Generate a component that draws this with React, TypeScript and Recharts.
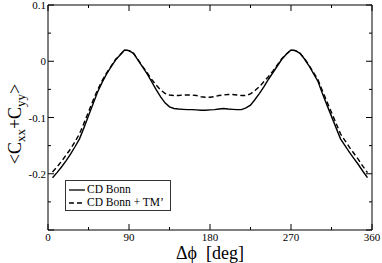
import React from 'react';
import { LineChart, Line, XAxis, YAxis, Legend } from 'recharts';

const angles = [
  5, 10, 15, 20, 25, 30, 35, 40, 45, 50, 55, 60, 65, 70, 75, 80, 85, 90,
  95, 100, 105, 110, 115, 120, 125, 130, 135, 140, 145, 150, 155, 160, 165, 170, 175, 180,
  185, 190, 195, 200, 205, 210, 215, 220, 225, 230, 235, 240, 245, 250, 255, 260, 265, 270,
  275, 280, 285, 290, 295, 300, 305, 310, 315, 320, 325, 330, 335, 340, 345, 350, 355,
];

const cdBonn = [
  -0.207, -0.198, -0.188, -0.177, -0.165, -0.152, -0.138, -0.118, -0.097, -0.076, -0.055, -0.038, -0.023, -0.01, 0.002, 0.011, 0.02, 0.019,
  0.014, 0.002, -0.01, -0.022, -0.036, -0.05, -0.063, -0.074, -0.081, -0.084, -0.085, -0.0855, -0.086, -0.086, -0.0865, -0.087, -0.087, -0.0865,
  -0.086, -0.085, -0.084, -0.085, -0.0855, -0.086, -0.086, -0.083, -0.078, -0.068, -0.057, -0.045, -0.032, -0.02, -0.008, 0.004, 0.013, 0.02,
  0.019, 0.014, 0.004, -0.008, -0.022, -0.036, -0.058, -0.078, -0.098, -0.118, -0.138, -0.15, -0.162, -0.173, -0.184, -0.196, -0.207,
];

const cdBonnTM = [
  -0.197, -0.188, -0.178, -0.167, -0.156, -0.143, -0.129, -0.11, -0.09, -0.07, -0.051, -0.035, -0.021, -0.009, 0.003, 0.011, 0.02, 0.019,
  0.014, 0.003, -0.009, -0.02, -0.032, -0.042, -0.051, -0.057, -0.06, -0.061, -0.061, -0.06, -0.06, -0.06, -0.061, -0.063, -0.064, -0.064,
  -0.063, -0.061, -0.06, -0.059, -0.059, -0.06, -0.061, -0.061, -0.058, -0.052, -0.045, -0.036, -0.027, -0.017, -0.006, 0.005, 0.013, 0.02,
  0.019, 0.014, 0.005, -0.007, -0.02, -0.033, -0.053, -0.072, -0.091, -0.11, -0.129, -0.141, -0.153, -0.164, -0.175, -0.187, -0.198,
];

const xTicks = [0, 45, 90, 135, 180, 225, 270, 315, 360];
const xLabels = [0, 90, 180, 270, 360];
const yTicks = [-0.3, -0.25, -0.2, -0.15, -0.1, -0.05, 0, 0.05, 0.1];
const yLabels = [-0.2, -0.1, 0, 0.1];

const seriesNames = ['CD Bonn', 'CD Bonn + TM\u2019'];
const seriesDash = ['', '5 3'];

const data = angles.map((a, i) => ({ phi: a, bonn: cdBonn[i], bonnTM: cdBonnTM[i] }));

const FONT = "'Liberation Serif', 'Times New Roman', Times, 'DejaVu Serif', serif";
const M = 2;

const isIn = (list: number[], v: number) => list.some((l) => Math.abs(l - v) < 1e-9);
const fmtY = (v: number) => (Math.abs(v) < 1e-9 ? '0' : String(Math.round(v * 10) / 10));

const txt = (size: number) => ({ fontFamily: FONT, fontSize: size });

const LeftTick = (props: any) => {
  const { x, y, payload } = props;
  const major = isIn(yLabels, payload.value) || Math.abs(payload.value + 0.3) < 1e-9;
  const ax = x + M;
  return (
    <g>
      <line x1={ax} x2={ax + (major ? 6 : 3)} y1={y} y2={y} stroke="#000" />
      {isIn(yLabels, payload.value) && (
        <text x={x} y={y + 4} textAnchor="end" style={txt(11)} fill="#000">
          {fmtY(payload.value)}
        </text>
      )}
    </g>
  );
};

const RightTick = (props: any) => {
  const { x, y, payload } = props;
  const major = isIn(yLabels, payload.value) || Math.abs(payload.value + 0.3) < 1e-9;
  const ax = x - M;
  return <line x1={ax} x2={ax - (major ? 6 : 3)} y1={y} y2={y} stroke="#000" />;
};

const BottomTick = (props: any) => {
  const { x, y, payload } = props;
  const major = isIn(xLabels, payload.value);
  const ay = y - M;
  return (
    <g>
      <line x1={x} x2={x} y1={ay} y2={ay - (major ? 6 : 3)} stroke="#000" />
      {major && (
        <text x={x} y={ay + 11} textAnchor="middle" style={txt(11)} fill="#000">
          {String(payload.value)}
        </text>
      )}
    </g>
  );
};

const TopTick = (props: any) => {
  const { x, y, payload } = props;
  const major = isIn(xLabels, payload.value);
  const ay = y + M;
  return <line x1={x} x2={x} y1={ay} y2={ay + (major ? 6 : 3)} stroke="#000" />;
};

const YTitle = () => (
  <text
    x={21}
    y={124}
    transform="rotate(-90, 21, 124)"
    textAnchor="middle"
    style={txt(18)}
    fill="#000"
  >
    {'<C'}
    <tspan fontSize={13} dy={4}>xx</tspan>
    <tspan dy={-4}>+C</tspan>
    <tspan fontSize={13} dy={4}>yy</tspan>
    <tspan dy={-4}>{'>'}</tspan>
  </text>
);

const XTitle = () => (
  <text x={210} y={259} textAnchor="middle" style={{ ...txt(18), whiteSpace: 'pre' }} fill="#000">
    {'\u0394\u03D5  [deg]'}
  </text>
);

const LegendBox = () => (
  <div
    style={{
      border: '1px solid #333',
      background: '#fff',
      padding: '2px 6px 1px 2px',
      fontFamily: FONT,
      fontSize: 11.5,
      lineHeight: '13px',
      color: '#000',
      whiteSpace: 'nowrap',
    }}
  >
    {seriesNames.map((n, i) => (
      <div key={n} style={{ display: 'flex', alignItems: 'center', height: 13 }}>
        <svg width={19} height={8} style={{ display: 'block' }}>
          <line x1={1} x2={17} y1={4} y2={4} stroke="#000" strokeWidth={1.3} strokeDasharray={seriesDash[i] || undefined} />
        </svg>
        <span>{n}</span>
      </div>
    ))}
  </div>
);

export default function App() {
  return (
    <div style={{ position: 'absolute', left: 0, top: 0, width: 382, height: 263, background: '#fff' }}>
      <LineChart width={382} height={263} data={data} margin={{ top: 0, right: 0, bottom: 0, left: 0 }}>
        <XAxis
          dataKey="phi"
          type="number"
          domain={[0, 360]}
          ticks={xTicks}
          interval={0}
          height={33}
          tickSize={0}
          tickMargin={M}
          tick={<BottomTick />}
          axisLine={{ stroke: '#000' }}
          tickLine={false}
          label={<XTitle />}
        />
        <XAxis
          xAxisId="top"
          dataKey="phi"
          type="number"
          orientation="top"
          domain={[0, 360]}
          ticks={xTicks}
          interval={0}
          height={5}
          tickSize={0}
          tickMargin={M}
          tick={<TopTick />}
          axisLine={{ stroke: '#000' }}
          tickLine={false}
        />
        <YAxis
          type="number"
          domain={[-0.3, 0.1]}
          ticks={yTicks}
          interval={0}
          width={48}
          tickSize={0}
          tickMargin={M}
          tick={<LeftTick />}
          axisLine={{ stroke: '#000' }}
          tickLine={false}
          allowDataOverflow
          label={<YTitle />}
        />
        <YAxis
          yAxisId="right"
          type="number"
          orientation="right"
          domain={[-0.3, 0.1]}
          ticks={yTicks}
          interval={0}
          width={10}
          tickSize={0}
          tickMargin={M}
          tick={<RightTick />}
          axisLine={{ stroke: '#000' }}
          tickLine={false}
          allowDataOverflow
        />
        <Legend
          layout="vertical"
          align="center"
          verticalAlign="middle"
          content={<LegendBox />}
          wrapperStyle={{ left: 65, top: 180, width: 'auto', height: 'auto' }}
        />
        <Line
          dataKey="bonn"
          name={seriesNames[0]}
          type="linear"
          stroke="#000"
          strokeWidth={1.4}
          dot={false}
          isAnimationActive={false}
        />
        <Line
          dataKey="bonnTM"
          name={seriesNames[1]}
          type="linear"
          stroke="#000"
          strokeWidth={1.4}
          strokeDasharray={seriesDash[1]}
          dot={false}
          isAnimationActive={false}
        />
      </LineChart>
    </div>
  );
}
